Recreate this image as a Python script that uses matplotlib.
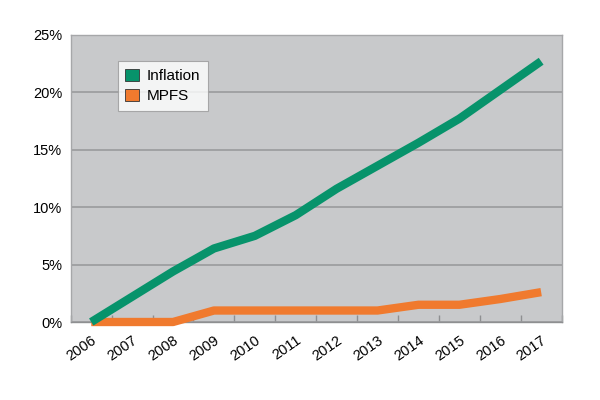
import numpy as np
from matplotlib import pyplot as plt
from matplotlib.patches import Patch

plt.rcParams['font.family'] = ['Liberation Sans', 'DejaVu Sans']

# Data
years = ['2006', '2007', '2008', '2009', '2010', '2011',
         '2012', '2013', '2014', '2015', '2016', '2017']
inflation = [0, 2.2, 4.4, 6.4, 7.5, 9.3, 11.6, 13.6, 15.6, 17.7, 20.2, 22.7]
mpfs = [0, 0, 0, 1.0, 1.0, 1.0, 1.0, 1.0, 1.5, 1.5, 2.0, 2.6]
yticks = [0, 5, 10, 15, 20, 25]

GREEN = '#07936b'
ORANGE = '#f07a2e'

fig = plt.figure(figsize=(6, 4), dpi=100)
ax = fig.add_axes([0.118, 0.195, 0.818, 0.718])
ax.set_facecolor('#c8c9cb')

x = np.arange(len(years))
ax.plot(x, mpfs, color=ORANGE, lw=6, solid_capstyle='butt', clip_on=False, zorder=3)
ax.plot(x, inflation, color=GREEN, lw=6, solid_capstyle='butt', clip_on=False, zorder=4)

ax.set_xlim(-0.5, len(years) - 0.5)
ax.set_ylim(0, 25)
ax.set_yticks(yticks)
ax.set_yticklabels([f'{v}%' for v in yticks], fontsize=10.5)
ax.yaxis.grid(True, color='#9a9b9d', lw=1.2)
ax.set_axisbelow(True)

ax.set_xticks(x)
ax.set_xticklabels(years, rotation=35, fontsize=10.5, ha='right', rotation_mode='anchor')
ax.set_xticks(np.arange(len(years) + 1) - 0.5, minor=True)
ax.tick_params(axis='x', which='major', length=0, pad=8)
ax.tick_params(axis='x', which='minor', direction='in', length=5, color='#8e8f91', width=1)
ax.tick_params(axis='y', length=0, pad=6)

for side in ['top', 'right', 'left', 'bottom']:
    ax.spines[side].set_color('#a6a7a9')
    ax.spines[side].set_linewidth(1)
ax.spines['bottom'].set_color('#8e8f91')

handles = [Patch(facecolor=GREEN, edgecolor='#333333', lw=0.6, label='Inflation'),
           Patch(facecolor=ORANGE, edgecolor='#333333', lw=0.6, label='MPFS')]
leg = ax.legend(handles=handles, loc='upper left', bbox_to_anchor=(0.08, 0.935),
                fontsize=11, frameon=True, fancybox=False, handlelength=0.9,
                handleheight=0.9, handletextpad=0.5, borderpad=0.5, labelspacing=0.35)
leg.get_frame().set_edgecolor('#999999')
leg.get_frame().set_linewidth(0.8)

plt.savefig('out.png', dpi=100, facecolor='white')
